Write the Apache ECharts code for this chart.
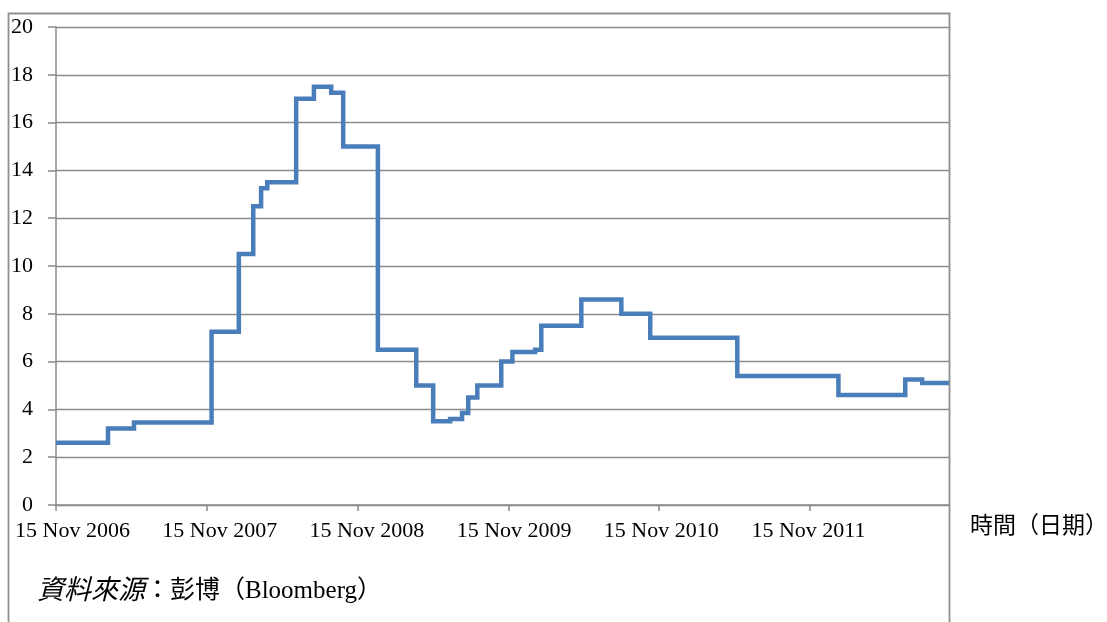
<!DOCTYPE html>
<html>
<head>
<meta charset="utf-8">
<script src="https://cdn.jsdelivr.net/npm/echarts@6/dist/echarts.min.js"></script>
<style>
html,body{margin:0;padding:0;background:#fff;}
#chart{width:1107px;height:622px;}
</style>
</head>
<body>
<div id="chart"></div>
<script>
// ---- data ----
const startDate = '2006-11-15';
const endDate = '2012-10-18';
const changeDates = ['2006-11-15','2007-03-21','2007-05-23','2007-11-27','2008-02-01','2008-03-07','2008-03-26','2008-04-10','2008-06-19','2008-08-01','2008-09-12','2008-10-11','2009-01-03','2009-04-06','2009-05-17','2009-06-27','2009-07-26','2009-08-10','2009-09-01','2009-10-29','2009-11-25','2010-01-19','2010-02-03','2010-05-11','2010-08-16','2010-10-25','2011-05-24','2012-01-24','2012-07-04','2012-08-14','2012-10-18'];
const rateValues = [2.6,3.2,3.45,7.25,10.5,12.5,13.25,13.5,17.0,17.5,17.25,15.0,6.5,5.0,3.5,3.6,3.85,4.5,5.0,6.0,6.4,6.5,7.5,8.6,8.0,7.0,5.4,4.6,5.25,5.1,5.1];
const tickDates = ['2006-11-15','2007-11-15','2008-11-15','2009-11-15','2010-11-15','2011-11-15'];
const tickLabels = ['15 Nov 2006','15 Nov 2007','15 Nov 2008','15 Nov 2009','15 Nov 2010','15 Nov 2011'];
const yTicks = [0,2,4,6,8,10,12,14,16,18,20];
const xAxisName = '時間（日期）';
const sourceLabel = '資料來源';
const sourceRest = '：彭博（Bloomberg）';

// ---- helpers ----
const DAY = 86400000;
function dayOf(s){ return Math.round((Date.parse(s + 'T00:00:00Z') - Date.parse(startDate + 'T00:00:00Z')) / DAY); }
const xMax = dayOf(endDate);
const seriesData = changeDates.map((d, i) => [dayOf(d), rateValues[i]]);
const tickValues = tickDates.map(dayOf);

// layout: plot spans x 56..949 px
const plotLeft = 56, plotRight = 949, plotTop = 27, plotBottom = 505;
const plotW = plotRight - plotLeft;
// labels in the reference sit on a slightly narrower spacing than the ticks
const labelValues = tickLabels.map((_, k) => xMax * (16.5 + 147.2 * k) / plotW);

const serif = '"Liberation Serif", "Times New Roman", "Noto Sans CJK TC", serif';
const cjk = '"Liberation Serif", "Noto Sans CJK TC", serif';

const chart = echarts.init(document.getElementById('chart'));
chart.setOption({
  animation: false,
  backgroundColor: '#fff',
  grid: { left: plotLeft, right: 1107 - plotRight, top: plotTop, bottom: 622 - plotBottom, containLabel: false },
  xAxis: {
    type: 'value',
    min: 0,
    max: xMax,
    axisLine: { show: true, lineStyle: { color: '#8a8a8a', width: 1.5 } },
    axisTick: { show: true, length: 6, customValues: tickValues, lineStyle: { color: '#8a8a8a', width: 1.5 } },
    splitLine: { show: false },
    axisLabel: {
      customValues: labelValues,
      margin: 15,
      color: '#000',
      fontFamily: serif,
      fontSize: 22,
      formatter: function (v) {
        let best = 0, bd = Infinity;
        labelValues.forEach((lv, i) => { const d = Math.abs(lv - v); if (d < bd) { bd = d; best = i; } });
        return tickLabels[best];
      }
    }
  },
  yAxis: {
    type: 'value',
    min: yTicks[0],
    max: yTicks[yTicks.length - 1],
    interval: yTicks[1] - yTicks[0],
    axisLine: { show: true, lineStyle: { color: '#8a8a8a', width: 1.5 } },
    axisTick: { show: true, length: 8, lineStyle: { color: '#8a8a8a', width: 1.5 } },
    splitLine: { show: true, lineStyle: { color: '#8c8c8c', width: 1.3 } },
    axisLabel: { margin: 23, color: '#000', fontFamily: serif, fontSize: 22 }
  },
  series: [{
    type: 'line',
    step: 'end',
    data: seriesData,
    symbol: 'none',
    lineStyle: { color: '#4A7EBB', width: 4.5, join: 'miter' },
    clip: true
  }],
  graphic: [
    {
      type: 'polyline',
      shape: { points: [[8.5, 622], [8.5, 13.5], [949.5, 13.5], [949.5, 622]] },
      style: { stroke: '#8f8f8f', lineWidth: 1.8, fill: null },
      silent: true
    },
    {
      type: 'text',
      left: 970, top: 515,
      style: { text: xAxisName, font: '23px ' + cjk, fill: '#000' }
    },
    {
      type: 'text',
      left: 37, top: 578,
      style: {
        text: '{i|' + sourceLabel + '}{n|' + sourceRest + '}',
        rich: {
          i: { fontSize: 27, fontStyle: 'italic', fontFamily: cjk, fill: '#000' },
          n: { fontSize: 25, fontFamily: cjk, fill: '#000' }
        }
      }
    }
  ]
});
</script>
</body>
</html>
